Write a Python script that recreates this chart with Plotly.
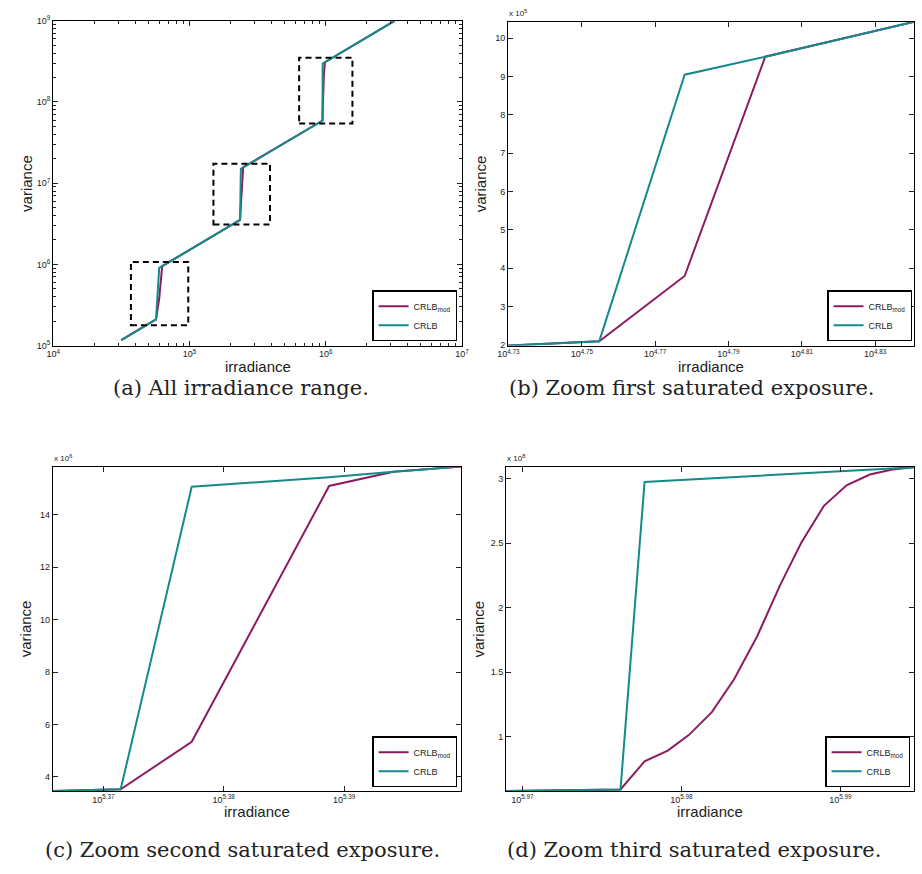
import math
import plotly.graph_objects as go

# ---------------- data ----------------
crlb_irr = [31600, 53735, 56855, 59986, 63100, 69280,
            232170, 235200, 238420, 244770, 247800, 251040,
            931050, 946600, 949900, 987700, 3200000]
crlb_var = [1.167e5, 1.985e5, 2.10e5, 9.05e5, 9.52e5, 10.43e5,
            3.46e6, 3.526e6, 15.07e6, 15.43e6, 15.64e6, 15.84e6,
            0.579e8, 0.592e8, 2.975e8, 3.089e8, 1.0e9]

mod_irr = [31600, 53735, 56855, 59986, 63100, 69280,
           232170, 235200, 238420, 244770, 247800, 251040,
           931050, 946600, 949900, 953100, 956000, 959200, 962300,
           965500, 968700, 971700, 974900, 978100, 981400, 984600,
           987700, 3200000]
mod_var = [1.167e5, 1.985e5, 2.10e5, 3.80e5, 9.52e5, 10.43e5,
           3.46e6, 3.526e6, 5.34e6, 15.10e6, 15.64e6, 15.84e6,
           0.579e8, 0.592e8, 0.809e8, 0.893e8, 1.013e8, 1.191e8, 1.446e8,
           1.777e8, 2.172e8, 2.503e8, 2.790e8, 2.949e8, 3.033e8, 3.071e8,
           3.089e8, 1.0e9]

# zoom windows drawn on panel (a): [x0, x1, y0, y1]
zoom_boxes = [
    [37200, 98000, 1.78e5, 1.07e6],
    [150000, 390000, 3.1e6, 1.74e7],
    [638000, 1570000, 5.45e7, 3.52e8],
]

series_names = ["CRLB<sub>mod</sub>", "CRLB"]
series_colors = ["#8c1c62", "#168a8a"]

captions = ["(a) All irradiance range.",
            "(b) Zoom first saturated exposure.",
            "(c) Zoom second saturated exposure.",
            "(d) Zoom third saturated exposure."]

b_xticks = [4.73, 4.75, 4.77, 4.79, 4.81, 4.83]
b_yticks = [2, 3, 4, 5, 6, 7, 8, 9, 10]
c_xticks = [5.37, 5.38, 5.39]
c_yticks = [4, 6, 8, 10, 12, 14]
d_xticks = [5.97, 5.98, 5.99]
d_yticks = [1, 1.5, 2, 2.5, 3]

# ---------------- layout helpers ----------------
W, H = 922, 874
def px(x):
    return x / W
def py(y):
    return 1 - y / H

panels = {
    # name: (left, right, top, bottom) in pixels
    "a": (43, 460, 14, 343.3),
    "b": (507, 921, 15, 343.3),
    "c": (42.7, 459.3, 466, 795),
    "d": (505, 921, 466, 795),
}
axis_ids = {"a": ("x", "y"), "b": ("x2", "y2"), "c": ("x3", "y3"), "d": ("x4", "y4")}
legend_ids = {"a": "legend", "b": "legend2", "c": "legend3", "d": "legend4"}

fig = go.Figure()

for p, (xa, ya) in axis_ids.items():
    for name, color, xs, ys in [
        (series_names[0], series_colors[0], mod_irr, mod_var),
        (series_names[1], series_colors[1], crlb_irr, crlb_var),
    ]:
        fig.add_trace(go.Scatter(
            x=xs, y=ys, mode="lines", name=name,
            line=dict(color=color, width=2),
            xaxis=xa, yaxis=ya, legend=legend_ids[p],
            showlegend=True,
        ))

tickfont = dict(family="Liberation Sans, Arial, sans-serif", size=9, color="#222")
common = dict(showline=True, linecolor="black", linewidth=1, mirror="allticks",
              ticks="inside", ticklen=5, tickcolor="#222", showgrid=False,
              zeroline=False, tickfont=tickfont)

def sup_labels(vals):
    return ["10<sup>%s</sup>" % v for v in vals]

layout = dict(width=W, height=H, margin=dict(l=0, r=0, t=0, b=0),
              plot_bgcolor="white", paper_bgcolor="white",
              font=dict(family="Liberation Sans, Arial, sans-serif", color="#222"))

# panel a (log-log)
l, r, t, b = panels["a"]
minor_x = [m * 10 ** e for e in range(4, 7) for m in range(2, 10)]
minor_y = [m * 10 ** e for e in range(5, 9) for m in range(2, 10)]
layout["xaxis"] = dict(common, domain=[px(l), px(r)], anchor="y", type="log",
                       range=[4, 7], tickvals=[10 ** e for e in range(4, 8)],
                       ticktext=sup_labels(range(4, 8)),
                       minor=dict(tickmode="array", tickvals=minor_x, ticks="inside",
                                  ticklen=3, tickwidth=1, tickcolor="#222", showgrid=False))
layout["yaxis"] = dict(common, domain=[py(b), py(t)], anchor="x", type="log",
                       range=[5, 9], tickvals=[10 ** e for e in range(5, 10)],
                       ticktext=sup_labels(range(5, 10)),
                       minor=dict(tickmode="array", tickvals=minor_y, ticks="inside",
                                  ticklen=3, tickwidth=1, tickcolor="#222", showgrid=False))

def zoom_axes(p, xr, yr, xticks, yticks, yscale):
    l, r, t, b = panels[p]
    xa, ya = axis_ids[p]
    xk = "xaxis" + xa[1:]
    yk = "yaxis" + ya[1:]
    layout[xk] = dict(common, domain=[px(l), px(r)], anchor=ya, type="log",
                      range=xr, tickvals=[10 ** v for v in xticks],
                      ticktext=sup_labels(xticks))
    layout[yk] = dict(common, domain=[py(b), py(t)], anchor=xa, type="linear",
                      range=yr, tickvals=[v * yscale for v in yticks],
                      ticktext=[("%g" % v) for v in yticks])

zoom_axes("b", [4.7299, math.log10(69280)], [1.985e5, 10.43e5], b_xticks, b_yticks, 1e5)
zoom_axes("c", [math.log10(232170), math.log10(251040)], [3.46e6, 15.84e6], c_xticks, c_yticks, 1e6)
zoom_axes("d", [math.log10(931050), math.log10(987700)], [0.579e8, 3.094e8], d_xticks, d_yticks, 1e8)

# legends
legfont = dict(family="Liberation Sans, Arial, sans-serif", size=9, color="#222")
legend_pos = {"a": (455, 339), "b": (919, 339), "c": (455, 791), "d": (917, 791)}
for p, (lx, ly) in legend_pos.items():
    layout[legend_ids[p]] = dict(x=px(lx), y=py(ly), xanchor="right", yanchor="bottom",
                                 bgcolor="white", bordercolor="black", borderwidth=1.5,
                                 font=legfont, itemwidth=30, tracegroupgap=0)

# dashed boxes on panel a (positioned in the axis domain from log values)
shapes = []
for x0, x1, y0, y1 in zoom_boxes:
    shapes.append(dict(type="rect", xref="x domain", yref="y domain",
                       x0=(math.log10(x0) - 4) / 3, x1=(math.log10(x1) - 4) / 3,
                       y0=(math.log10(y0) - 5) / 4, y1=(math.log10(y1) - 5) / 4,
                       line=dict(color="black", width=2, dash="6px,4px")))
layout["shapes"] = shapes

# annotations: axis titles, multipliers, captions
ann = []
title_font = dict(family="Liberation Sans, Arial, sans-serif", size=15, color="#222")
for p in panels:
    l, r, t, b = panels[p]
    ann.append(dict(text="irradiance", x=px((l + r) / 2), y=py(b + 21), xref="paper", yref="paper",
                    showarrow=False, xanchor="center", yanchor="middle", borderpad=0,
                    font=title_font))
    ann.append(dict(text="variance", x=px(l - 28), y=py((t + b) / 2), xref="paper", yref="paper",
                    showarrow=False, xanchor="center", yanchor="middle", textangle=-90, font=title_font))

mult = {"b": "5", "c": "6", "d": "8"}
for p, e in mult.items():
    l, r, t, b = panels[p]
    ann.append(dict(text="x 10<sup>%s</sup>" % e, x=px(l - 1), y=py(t - 2), xref="paper", yref="paper",
                    showarrow=False, xanchor="left", yanchor="bottom",
                    font=dict(family="Liberation Sans, Arial, sans-serif", size=8, color="#222")))

cap_font = dict(family="DejaVu Serif, serif", size=21, color="#222")
cap_pos = [(234.5, 386), (694.5, 386), (236, 855), (697, 855)]
for text, (cx, cy) in zip(captions, cap_pos):
    ann.append(dict(text=text, x=px(cx), y=py(cy), xref="paper", yref="paper",
                    showarrow=False, xanchor="center", yanchor="middle", borderpad=0,
                    font=cap_font))
layout["annotations"] = ann

fig.update_layout(**layout)
fig.write_html("out.html", config={"displayModeBar": False},
               post_script="document.body.style.margin='0px';document.body.style.overflow='hidden';")
